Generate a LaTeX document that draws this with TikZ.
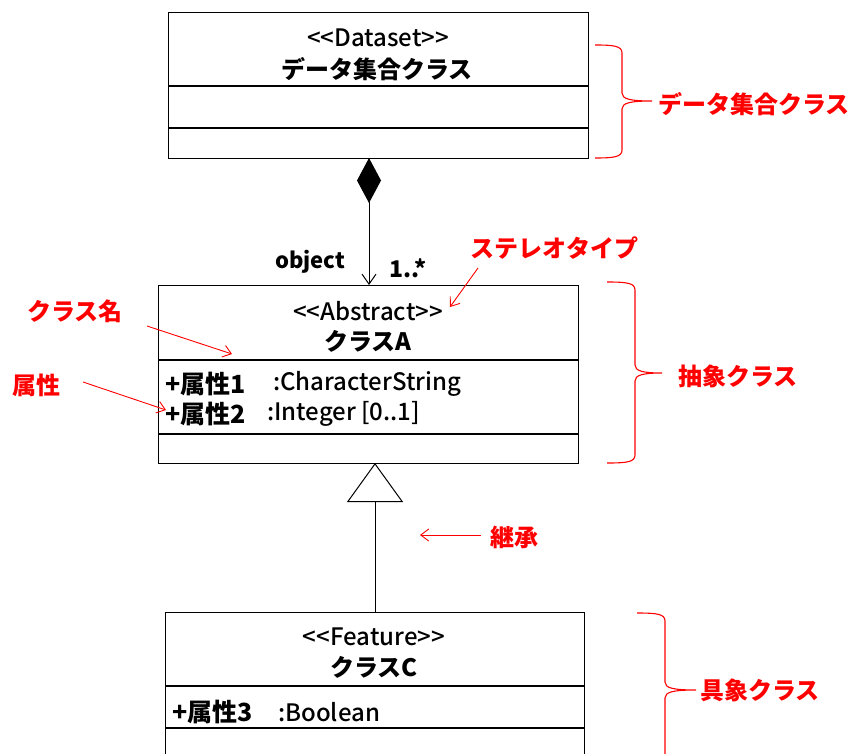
\documentclass[tikz,border=0pt]{standalone}
\usepackage{fontspec}
\setmainfont{Noto Sans CJK JP}
\newfontfamily\medfam{Noto Sans CJK JP Medium}
\usetikzlibrary{arrows.meta}
\newcommand\lla{<\kern0pt<}
\newcommand\gga{>\kern0pt>}
\newcommand\jp{\fontsize{24}{28}\selectfont\bfseries}
\newcommand\jpa{\fontsize{25}{29}\selectfont\bfseries}
\newcommand\lt{\medfam\fontsize{24}{28}\selectfont}
\newcommand\redbrace[6]{%
  \draw[bracest] (#1,#4) .. controls (#2-8,#4) and (#2,#4+1) .. (#2,#4+8)
    -- (#2,#5-8) .. controls (#2,#5-2) and (#2+8,#5) .. (#3,#5)
    .. controls (#2+8,#5) and (#2,#5+2) .. (#2,#5+8)
    -- (#2,#6-8) .. controls (#2,#6-1) and (#2-8,#6) .. (#1,#6);}
\begin{document}
\begin{tikzpicture}[x=1pt,y=-1pt,
  box/.style={draw=black,line width=1.1pt,anchor=north west,inner sep=0pt},
  div/.style={draw=black,line width=1.1pt},
  bracest/.style={draw=red,line width=1.1pt},
  rlab/.style={text=red,font=\jp,anchor=west,inner sep=0pt},
  rarr/.style={draw=red,line width=0.9pt,-{Straight Barb[length=8pt,width=12pt]}},
  ctr/.style={inner sep=0pt,anchor=center},
  lft/.style={inner sep=0pt,anchor=west}]
\useasboundingbox (0,0) rectangle (853,754);
% Dataset box
\node[box,minimum width=420pt,minimum height=146pt] (ds) at (168,12) {};
\draw[div] (168,86) -- (588,86);
\draw[div] (168,128) -- (588,128);
\node[ctr,font=\lt] (dsst) at (378,38) {\lla Dataset\gga};
\node[ctr,font=\jp] (dsnm) at (377,69) {データ集合クラス};
% Class A
\node[box,minimum width=420pt,minimum height=178pt] (ca) at (158,285) {};
\draw[div] (158,360) -- (578,360);
\draw[div] (158,434) -- (578,434);
\node[ctr,font=\lt] (cast) at (368,311) {\lla Abstract\gga};
\node[ctr,font=\jp] (canm) at (368,341) {クラスA};
\node[lft,font=\jpa] (a1) at (165,384) {+属性1};
\node[lft,font=\lt] (a1t) at (273,384) {:CharacterString};
\node[lft,font=\jpa] (a2) at (165,414) {+属性2};
\node[lft,font=\lt] (a2t) at (267,414) {:Integer [0..1]};
% Class C
\node[box,minimum width=419pt,minimum height=200pt] (cc) at (165,612) {};
\draw[div] (165,686) -- (584,686);
\draw[div] (165,728) -- (584,728);
\node[ctr,font=\lt] (ccst) at (374,637) {\lla Feature\gga};
\node[ctr,font=\jp] (ccnm) at (374,667) {クラスC};
\node[lft,font=\jpa] (a3) at (172,712) {+属性3};
\node[lft,font=\lt] (a3t) at (278,712) {:Boolean};
% association
\coordinate (asTop) at (369,158);
\coordinate (asBot) at (369,285);
\draw[line width=1pt,{Diamond[fill=black,length=45pt,width=24pt]}-{Straight Barb[length=10pt,width=14pt]}] (asTop) -- (asBot);
\node[lft,font=\fontsize{22}{26}\selectfont\bfseries] (obj) at (275,262) {object};
\node[lft,font=\fontsize{23}{27}\selectfont\bfseries] (mult) at (389,268) {1..*};
% inheritance
\coordinate (inTop) at (375,463);
\coordinate (inBot) at (375,612);
\draw[line width=1pt,-{Triangle[open,fill=white,length=39pt,width=56pt]}] (inBot) -- (inTop);
% braces and labels
\redbrace{595}{622}{652}{45}{101}{158}
\node[rlab] (lds) at (658,104) {データ集合クラス};
\redbrace{607}{635}{662}{282}{373}{463}
\node[rlab] (lab) at (678,376) {抽象クラス};
\redbrace{637}{665}{696}{613}{690}{820}
\node[rlab] (lcc) at (700,690) {具象クラス};
% annotations
\node[rlab] (lst) at (470,248) {ステレオタイプ};
\coordinate (s1) at (478,268); \coordinate (s2) at (450,307);
\draw[rarr] (s1) -- (s2);
\node[rlab] (lnm) at (27,311) {クラス名};
\coordinate (n1) at (147,326); \coordinate (n2) at (232,354);
\draw[rarr] (n1) -- (n2);
\node[rlab] (lat) at (12,385) {属性};
\coordinate (t1) at (83,382); \coordinate (t2) at (166,410);
\draw[rarr] (t1) -- (t2);
\node[rlab] (linh) at (490,537) {継承};
\coordinate (h1) at (481,535); \coordinate (h2) at (420,535);
\draw[rarr] (h1) -- (h2);
\end{tikzpicture}
\end{document}
